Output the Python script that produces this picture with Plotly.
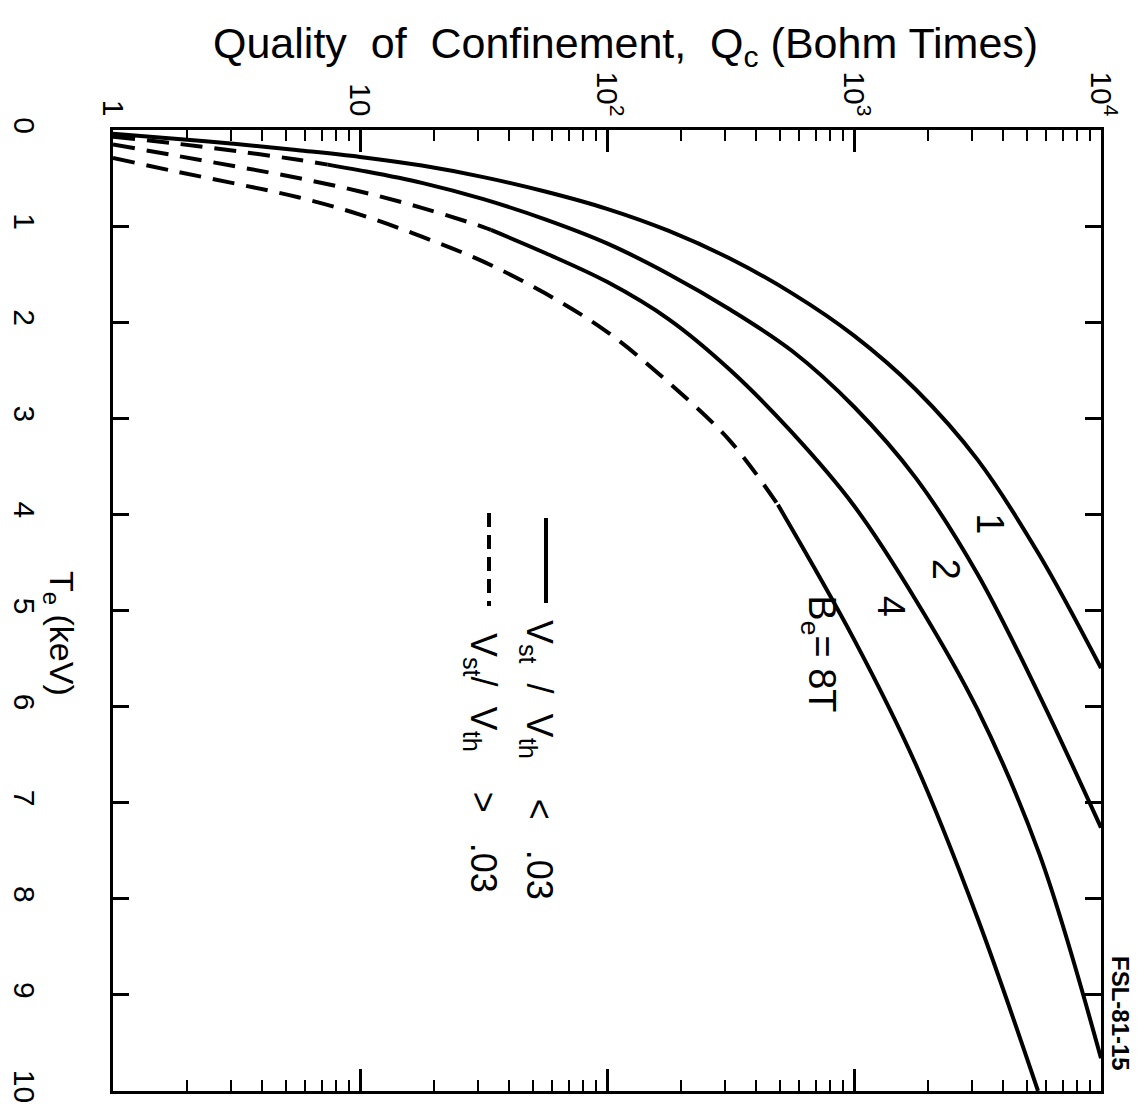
import plotly.graph_objects as go

# ---- data (Q in Bohm times, Te in keV) ----
b1_solid_q = [1, 1.78, 3.16, 5.62, 10, 17.8, 31.6, 56.2, 100, 178, 316, 562, 1000, 1778, 3162, 5623, 10000]
b1_solid_te = [0.04, 0.09, 0.145, 0.21, 0.28, 0.37, 0.49, 0.64, 0.82, 1.05, 1.34, 1.70, 2.14, 2.70, 3.43, 4.42, 5.60]

b2_dash_q = [1, 1.78, 3.16, 5.62, 7.4]
b2_dash_te = [0.07, 0.14, 0.22, 0.31, 0.36]
b2_solid_q = [7.4, 10, 17.8, 31.6, 56.2, 100, 178, 316, 562, 1000, 1778, 3162, 5623, 10000]
b2_solid_te = [0.36, 0.42, 0.55, 0.72, 0.93, 1.18, 1.50, 1.87, 2.30, 2.88, 3.62, 4.62, 5.88, 7.26]

b4_dash_q = [1, 1.78, 3.16, 5.62, 10, 17.8, 31.6, 33.9]
b4_dash_te = [0.15, 0.265, 0.38, 0.50, 0.64, 0.81, 1.01, 1.04]
b4_solid_q = [33.9, 56.2, 100, 178, 316, 562, 1000, 1778, 3162, 5623, 10000]
b4_solid_te = [1.04, 1.28, 1.58, 1.97, 2.50, 3.15, 3.91, 4.89, 6.03, 7.53, 9.66]

b8_dash_q = [1, 1.78, 3.16, 5.62, 10, 17.8, 31.6, 56.2, 100, 178, 316, 492]
b8_dash_te = [0.29, 0.43, 0.56, 0.70, 0.88, 1.11, 1.37, 1.70, 2.10, 2.63, 3.24, 3.90]
b8_solid_q = [492, 1000, 1778, 3162, 5560]
b8_solid_te = [3.90, 5.30, 6.60, 8.20, 10.0]

q_tickvals = [1, 10, 100, 1000, 10000]
q_ticktext = ["1", "10", "10<sup>2</sup>", "10<sup>3</sup>", "10<sup>4</sup>"]
q_minor = [m * d for d in (1, 10, 100, 1000) for m in range(2, 10)]
te_tickvals = list(range(0, 11))
te_ticktext = [str(v) for v in te_tickvals]

curve_labels = ["1", "2", "4", "B<sub>e</sub>= 8T"]
label_logq = [3.55, 3.37, 3.15, 2.86]
label_te = [4.10, 4.57, 4.95, 5.45]

FONT = "Liberation Sans"
W, H = 1138, 1112
L, R, T, B = 105, 45, 122, 29
PW, PH = W - L - R, H - T - B


def px(x):
    return (x - L) / PW


def py(y):
    return 1 - (y - T) / PH


fig = go.Figure()
solid = dict(color="black", width=4)
dashed = dict(color="black", width=4, dash="22px,12px")

for q, te in [(b1_solid_q, b1_solid_te), (b2_solid_q, b2_solid_te),
              (b4_solid_q, b4_solid_te), (b8_solid_q, b8_solid_te)]:
    fig.add_trace(go.Scatter(x=q, y=te, mode="lines", line=solid,
                             line_shape="spline", showlegend=False))
for q, te in [(b2_dash_q, b2_dash_te), (b4_dash_q, b4_dash_te), (b8_dash_q, b8_dash_te)]:
    fig.add_trace(go.Scatter(x=q, y=te, mode="lines", line=dashed,
                             line_shape="spline", showlegend=False))

fig.update_xaxes(
    type="log", range=[0, 4], side="top", automargin=False,
    tickvals=q_tickvals, ticktext=q_ticktext, tickangle=90,
    ticks="inside", ticklen=22, tickwidth=2.5, tickcolor="black",
    minor=dict(tickvals=q_minor, ticks="inside", ticklen=11, tickwidth=2, tickcolor="black"),
    showline=True, linecolor="black", linewidth=3, mirror="ticks",
    showgrid=False, zeroline=False,
    tickfont=dict(family=FONT, size=30, color="black"),
)
fig.update_yaxes(
    range=[10, 0], tickvals=te_tickvals, ticktext=te_ticktext, tickangle=90,
    automargin=False,
    ticks="inside", ticklen=16, tickwidth=2.5, tickcolor="black",
    showline=True, linecolor="black", linewidth=3, mirror="ticks",
    showgrid=False, zeroline=False, ticklabelstandoff=60,
    tickfont=dict(family=FONT, size=30, color="black"),
)

ann = []
ann.append(dict(text="Quality  of  Confinement,  Q<sub>c</sub> (Bohm Times)",
                xref="paper", yref="paper", x=px(617), y=py(38),
                showarrow=False, font=dict(family=FONT, size=43, color="black"),
                xanchor="center", yanchor="middle"))
ann.append(dict(text="T<sub>e</sub> (keV)", xref="paper", yref="paper",
                x=px(52), y=py(625), textangle=90, showarrow=False,
                font=dict(family=FONT, size=34, color="black"),
                xanchor="center", yanchor="middle"))
ann.append(dict(text="<b>FSL-81-15</b>", xref="paper", yref="paper",
                x=px(1113), y=py(1005), textangle=90, showarrow=False,
                font=dict(family=FONT, size=24, color="black"),
                xanchor="center", yanchor="middle"))
for t, lx, ly in zip(curve_labels, label_logq, label_te):
    ann.append(dict(text=t, x=lx, y=ly, xref="x", yref="y", textangle=90,
                    showarrow=False, font=dict(family=FONT, size=38, color="black"),
                    xanchor="center", yanchor="middle"))
ann.append(dict(text="V<sub>st</sub>  /  V<sub>th</sub>    &lt;   .03", xref="paper", yref="paper",
                x=px(529), y=py(752), textangle=90, showarrow=False,
                font=dict(family=FONT, size=36, color="black"),
                xanchor="center", yanchor="middle"))
ann.append(dict(text="V<sub>st</sub>/  V<sub>th</sub>    &gt;   .03", xref="paper", yref="paper",
                x=px(473), y=py(755), textangle=90, showarrow=False,
                font=dict(family=FONT, size=36, color="black"),
                xanchor="center", yanchor="middle"))

shapes = [
    dict(type="line", xref="paper", yref="paper", x0=px(538), x1=px(538),
         y0=py(510), y1=py(595), line=dict(color="black", width=4)),
    dict(type="line", xref="paper", yref="paper", x0=px(481), x1=px(481),
         y0=py(505), y1=py(598), line=dict(color="black", width=4, dash="14px,8px")),
]

fig.update_layout(
    width=W, height=H, margin=dict(l=L, r=R, t=T, b=B),
    plot_bgcolor="white", paper_bgcolor="white",
    annotations=ann, shapes=shapes, showlegend=False,
)

fig.write_html("out.html")
